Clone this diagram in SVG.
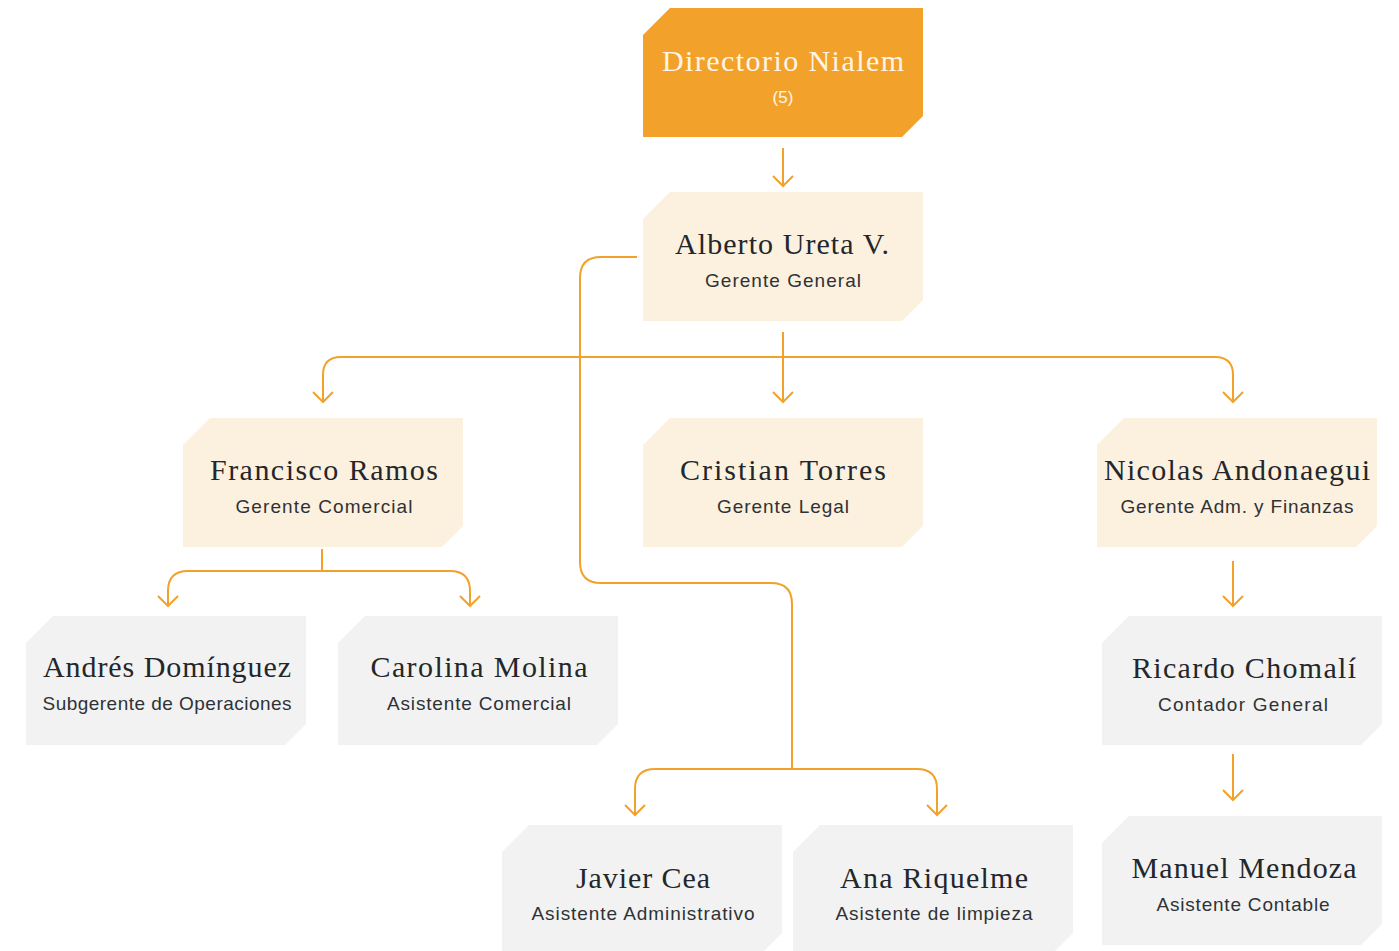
<svg xmlns="http://www.w3.org/2000/svg" xmlns:xlink="http://www.w3.org/1999/xlink" width="1399" height="951" viewBox="0 0 1399 951">
<style>
.name{font-family:"Liberation Serif",serif;font-size:30px;fill:#23272b;text-anchor:middle}
.role{font-family:"Liberation Sans",sans-serif;font-size:19px;fill:#2e3236;text-anchor:middle}
.top .name{fill:#fff5e6}
.top .role{fill:#fff5e6;font-size:17px}
.orange{fill:#f2a22b}
.cream{fill:#fcf0df}
.grey{fill:#f2f2f2}
.conn path{fill:none;stroke:#f2a22b;stroke-width:2}
</style>
<defs>
<path id="shape" d="M0,27 L27,0 H280 V108 L259,129 H0 Z"/>
<marker id="ah" viewBox="-12 -12 14 24" markerWidth="14" markerHeight="24" refX="0" refY="0" orient="auto" markerUnits="userSpaceOnUse">
<path d="M-10,-10 L0,0 L-10,10" fill="none" stroke="#f2a22b" stroke-width="2"/>
</marker>
</defs>
<rect width="1399" height="951" fill="#ffffff"/>
<g id="connectors" class="conn">
<path d="M783,148 V186" marker-end="url(#ah)"/>
<path d="M783,332 V402" marker-end="url(#ah)"/>
<path d="M783,357 H341 Q323,357 323,375 V402" marker-end="url(#ah)"/>
<path d="M783,357 H1215 Q1233,357 1233,375 V402" marker-end="url(#ah)"/>
<path d="M322,549 V571 H188 Q168,571 168,591 V606" marker-end="url(#ah)"/>
<path d="M322,571 H450 Q470,571 470,591 V606" marker-end="url(#ah)"/>
<path d="M637,257 H601 Q580,257 580,278 V562 Q580,583 601,583 H771 Q792,583 792,604 V769"/>
<path d="M792,769 H655 Q635,769 635,789 V815" marker-end="url(#ah)"/>
<path d="M792,769 H917 Q937,769 937,789 V815" marker-end="url(#ah)"/>
<path d="M1233,561 V606" marker-end="url(#ah)"/>
<path d="M1233,754 V800" marker-end="url(#ah)"/>
</g>
<g id="directorio" class="top">
<use xlink:href="#shape" href="#shape" x="643" y="8" class="orange"/>
<text class="name" x="783" y="71" textLength="242" lengthAdjust="spacing">Directorio Nialem</text>
<text class="role" x="783" y="103">(5)</text>
</g>
<g id="alberto">
<use xlink:href="#shape" href="#shape" x="643" y="192" class="cream"/>
<text class="name" x="782" y="254" textLength="214" lengthAdjust="spacing">Alberto Ureta V.</text>
<text class="role" x="783" y="287" textLength="156" lengthAdjust="spacing">Gerente General</text>
</g>
<g id="francisco">
<use xlink:href="#shape" href="#shape" x="183" y="418" class="cream"/>
<text class="name" x="324" y="480" textLength="228" lengthAdjust="spacing">Francisco Ramos</text>
<text class="role" x="324" y="513" textLength="177" lengthAdjust="spacing">Gerente Comercial</text>
</g>
<g id="cristian">
<use xlink:href="#shape" href="#shape" x="643" y="418" class="cream"/>
<text class="name" x="783" y="480" textLength="206" lengthAdjust="spacing">Cristian Torres</text>
<text class="role" x="783" y="513" textLength="132" lengthAdjust="spacing">Gerente Legal</text>
</g>
<g id="nicolas">
<use xlink:href="#shape" href="#shape" x="1097" y="418" class="cream"/>
<text class="name" x="1237" y="480" textLength="266" lengthAdjust="spacing">Nicolas Andonaegui</text>
<text class="role" x="1237" y="513" textLength="233" lengthAdjust="spacing">Gerente Adm. y Finanzas</text>
</g>
<g id="andres">
<use xlink:href="#shape" href="#shape" x="26" y="616" class="grey"/>
<text class="name" x="167" y="677" textLength="248" lengthAdjust="spacing">Andrés Domínguez</text>
<text class="role" x="167" y="710" textLength="249" lengthAdjust="spacing">Subgerente de Operaciones</text>
</g>
<g id="carolina">
<use xlink:href="#shape" href="#shape" x="338" y="616" class="grey"/>
<text class="name" x="479" y="677" textLength="217" lengthAdjust="spacing">Carolina Molina</text>
<text class="role" x="479" y="710" textLength="184" lengthAdjust="spacing">Asistente Comercial</text>
</g>
<g id="ricardo">
<use xlink:href="#shape" href="#shape" x="1102" y="616" class="grey"/>
<text class="name" x="1244" y="678" textLength="224" lengthAdjust="spacing">Ricardo Chomalí</text>
<text class="role" x="1243" y="711" textLength="170" lengthAdjust="spacing">Contador General</text>
</g>
<g id="javier">
<use xlink:href="#shape" href="#shape" x="502" y="825" class="grey"/>
<text class="name" x="643" y="888" textLength="134" lengthAdjust="spacing">Javier Cea</text>
<text class="role" x="643" y="920" textLength="223" lengthAdjust="spacing">Asistente Administrativo</text>
</g>
<g id="ana">
<use xlink:href="#shape" href="#shape" x="793" y="825" class="grey"/>
<text class="name" x="934" y="888" textLength="188" lengthAdjust="spacing">Ana Riquelme</text>
<text class="role" x="934" y="920" textLength="197" lengthAdjust="spacing">Asistente de limpieza</text>
</g>
<g id="manuel">
<use xlink:href="#shape" href="#shape" x="1102" y="816" class="grey"/>
<text class="name" x="1244" y="878" textLength="225" lengthAdjust="spacing">Manuel Mendoza</text>
<text class="role" x="1243" y="911" textLength="173" lengthAdjust="spacing">Asistente Contable</text>
</g>
</svg>
